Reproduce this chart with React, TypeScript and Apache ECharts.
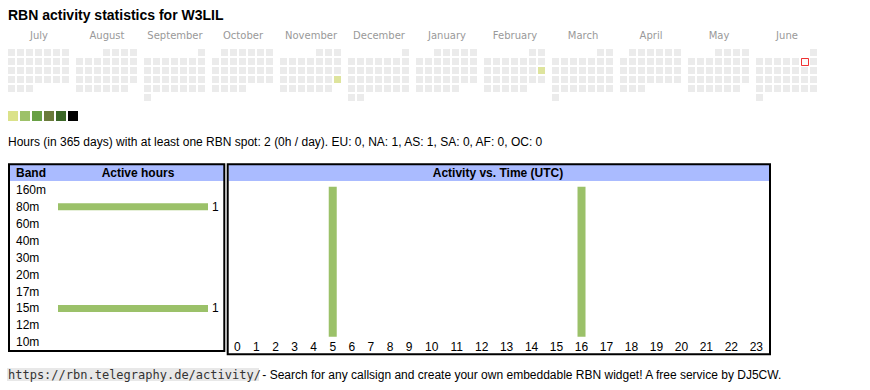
import React, { useEffect, useRef } from 'react';
import * as echarts from 'echarts';

const chartTitle = 'RBN activity statistics for W3LIL';
const monthLabels = ['July', 'August', 'September', 'October', 'November', 'December', 'January', 'February', 'March', 'April', 'May', 'June'];
const monthRanges = ['2024-07', '2024-08', '2024-09', '2024-10', '2024-11', '2024-12', '2025-01', '2025-02', '2025-03', '2025-04', '2025-05', '2025-06'];
const activeDays: [string, number][] = [['2024-11-24', 1], ['2025-02-16', 1]];
const todayDate = '2025-06-07';
const legendColors = ['#dbe28a', '#9dc169', '#68a045', '#6a7b3b', '#3b6727', '#000000'];
const legendLimits = [1, 3, 6, 10, 15, 24];

const bands = ['160m', '80m', '60m', '40m', '30m', '20m', '17m', '15m', '12m', '10m'];
const bandHours = [0, 1, 0, 0, 0, 0, 0, 1, 0, 0];

const hourLabels = ['0', '1', '2', '3', '4', '5', '6', '7', '8', '9', '10', '11', '12', '13', '14', '15', '16', '17', '18', '19', '20', '21', '22', '23'];
const hourActivity = [0, 0, 0, 0, 0, 1, 0, 0, 0, 0, 0, 0, 0, 0, 0, 0, 1, 0, 0, 0, 0, 0, 0, 0];

const totalHours = 2;
const periodDays = 365;
const perDay = '0h';
const continents = ['EU', 'NA', 'AS', 'SA', 'AF', 'OC'];
const continentHours = [0, 1, 1, 0, 0, 0];

const footerUrl = 'https://rbn.telegraphy.de/activity/';
const footerText = ' - Search for any callsign and create your own embeddable RBN widget! A free service by DJ5CW.';

const SANS = "'Liberation Sans', Arial, sans-serif";
const BAR = '#9bc169';
const HEAD = '#aabbff';

export default function App() {
  const ref = useRef<HTMLDivElement>(null);
  useEffect(() => {
    if (!ref.current) return;
    const chart = echarts.init(ref.current, null, { renderer: 'svg' });

    const calendars = monthRanges.map((r, i) => ({
      orient: 'vertical',
      range: r,
      left: 7 + 68 * i,
      top: 48,
      cellSize: [9, 9],
      splitLine: { show: false },
      itemStyle: { color: '#ebebeb', borderColor: '#ffffff', borderWidth: 2 },
      dayLabel: { show: false, firstDay: 1 },
      monthLabel: { show: false },
      yearLabel: { show: false },
    }));

    const daySeries = monthRanges.map((r, i) => ({
      type: 'scatter',
      coordinateSystem: 'calendar',
      calendarIndex: i,
      symbol: 'rect',
      symbolSize: 7,
      data: activeDays.filter((d) => d[0].startsWith(r)),
    }));

    const pieces = legendColors.map((c, i) => ({
      min: i === 0 ? 1 : legendLimits[i - 1] + 1,
      max: legendLimits[i],
      color: c,
    }));

    const summary =
      `Hours (in ${periodDays} days) with at least one RBN spot: ${totalHours} (${perDay} / day). ` +
      continents.map((c, i) => `${c}: ${continentHours[i]}`).join(', ');

    const hourAxisLabel = { color: '#000', fontSize: 12, fontFamily: SANS, margin: 4, interval: 0 };

    chart.setOption({
      animation: false,
      backgroundColor: '#ffffff',
      calendar: calendars,
      grid: [
        { left: 5, width: 816, top: 44, height: 1 },
        { left: 58, width: 150, top: 181.2, height: 169.7 },
        { left: 227.8, width: 190.8, top: 186.7, height: 150 },
        { left: 419.2, width: 349.6, top: 186.7, height: 150 },
      ],
      xAxis: [
        {
          gridIndex: 0, type: 'category', data: monthLabels, position: 'top',
          axisLine: { show: false }, axisTick: { show: false },
          axisLabel: { color: '#999', fontSize: 10, fontFamily: "'DejaVu Sans', Verdana, sans-serif", margin: 4, interval: 0 },
        },
        { gridIndex: 1, type: 'value', min: 0, max: 1, show: false },
        {
          gridIndex: 2, type: 'category', data: hourLabels.slice(0, 10),
          axisLine: { show: false }, axisTick: { show: false }, axisLabel: hourAxisLabel,
        },
        {
          gridIndex: 3, type: 'category', data: hourLabels.slice(10),
          axisLine: { show: false }, axisTick: { show: false }, axisLabel: hourAxisLabel,
        },
      ],
      yAxis: [
        { gridIndex: 0, type: 'value', show: false },
        {
          gridIndex: 1, type: 'category', data: bands, inverse: true,
          axisLine: { show: false }, axisTick: { show: false },
          axisLabel: { align: 'left', margin: 42, fontSize: 12, color: '#000', fontFamily: SANS, interval: 0 },
        },
        { gridIndex: 2, type: 'value', min: 0, max: 1, show: false },
        { gridIndex: 3, type: 'value', min: 0, max: 1, show: false },
      ],
      visualMap: {
        type: 'piecewise',
        seriesIndex: daySeries.map((_, i) => i),
        pieces,
        orient: 'horizontal',
        left: 8,
        top: 111,
        itemWidth: 10,
        itemHeight: 10,
        itemGap: 2,
        showLabel: false,
        itemSymbol: 'rect',
        padding: 0,
        selectedMode: false,
      },
      series: [
        ...daySeries,
        {
          type: 'scatter',
          coordinateSystem: 'calendar',
          calendarIndex: 11,
          symbol: 'rect',
          symbolSize: 7,
          symbolOffset: [0.5, 0.5],
          itemStyle: { color: '#ffffff', borderColor: '#ee0000', borderWidth: 1 },
          data: [[todayDate, 0]],
        },
        {
          type: 'bar', xAxisIndex: 1, yAxisIndex: 1, barWidth: 7,
          itemStyle: { color: BAR },
          label: {
            show: true, position: 'right', distance: 4, color: '#000', fontSize: 12, fontFamily: SANS,
            formatter: (p: any) => (p.value > 0 ? String(p.value) : ''),
          },
          data: bandHours,
        },
        {
          type: 'bar', xAxisIndex: 2, yAxisIndex: 2, barWidth: 8,
          itemStyle: { color: BAR }, data: hourActivity.slice(0, 10),
        },
        {
          type: 'bar', xAxisIndex: 3, yAxisIndex: 3, barWidth: 8,
          itemStyle: { color: BAR }, data: hourActivity.slice(10),
        },
      ],
      graphic: [
        { type: 'text', x: 8, y: 15, style: { text: chartTitle, font: `bold 14px ${SANS}`, fill: '#000', verticalAlign: 'middle' } },
        { type: 'text', x: 8, y: 141.5, style: { text: summary, font: `12px ${SANS}`, fill: '#000', verticalAlign: 'middle' } },
        { type: 'rect', shape: { x: 10, y: 165, width: 214, height: 16 }, style: { fill: HEAD } },
        { type: 'rect', shape: { x: 228.5, y: 165, width: 540.5, height: 16 }, style: { fill: HEAD } },
        { type: 'rect', shape: { x: 9, y: 164.3, width: 215.3, height: 186.7 }, style: { fill: 'none', stroke: '#000', lineWidth: 2 } },
        { type: 'rect', shape: { x: 227.7, y: 164.3, width: 542.3, height: 190 }, style: { fill: 'none', stroke: '#000', lineWidth: 2 } },
        { type: 'text', x: 16, y: 173, style: { text: 'Band', font: `bold 12px ${SANS}`, fill: '#000', verticalAlign: 'middle' } },
        { type: 'text', x: 138, y: 173, style: { text: 'Active hours', font: `bold 12px ${SANS}`, fill: '#000', align: 'center', verticalAlign: 'middle' } },
        { type: 'text', x: 498, y: 173, style: { text: 'Activity vs. Time (UTC)', font: `bold 12px ${SANS}`, fill: '#000', align: 'center', verticalAlign: 'middle' } },
        { type: 'rect', shape: { x: 7, y: 368, width: 252, height: 13 }, style: { fill: '#e8e8e8' } },
        { type: 'text', x: 8, y: 374.5, style: { text: footerUrl, font: `12px 'DejaVu Sans Mono', monospace`, fill: '#333', verticalAlign: 'middle' } },
        { type: 'text', x: 259, y: 374.5, style: { text: footerText, font: `12px ${SANS}`, fill: '#000', verticalAlign: 'middle' } },
      ],
    } as any);

    return () => chart.dispose();
  }, []);

  return <div ref={ref} style={{ position: 'fixed', left: 0, top: 0, width: 870, height: 390 }} />;
}
